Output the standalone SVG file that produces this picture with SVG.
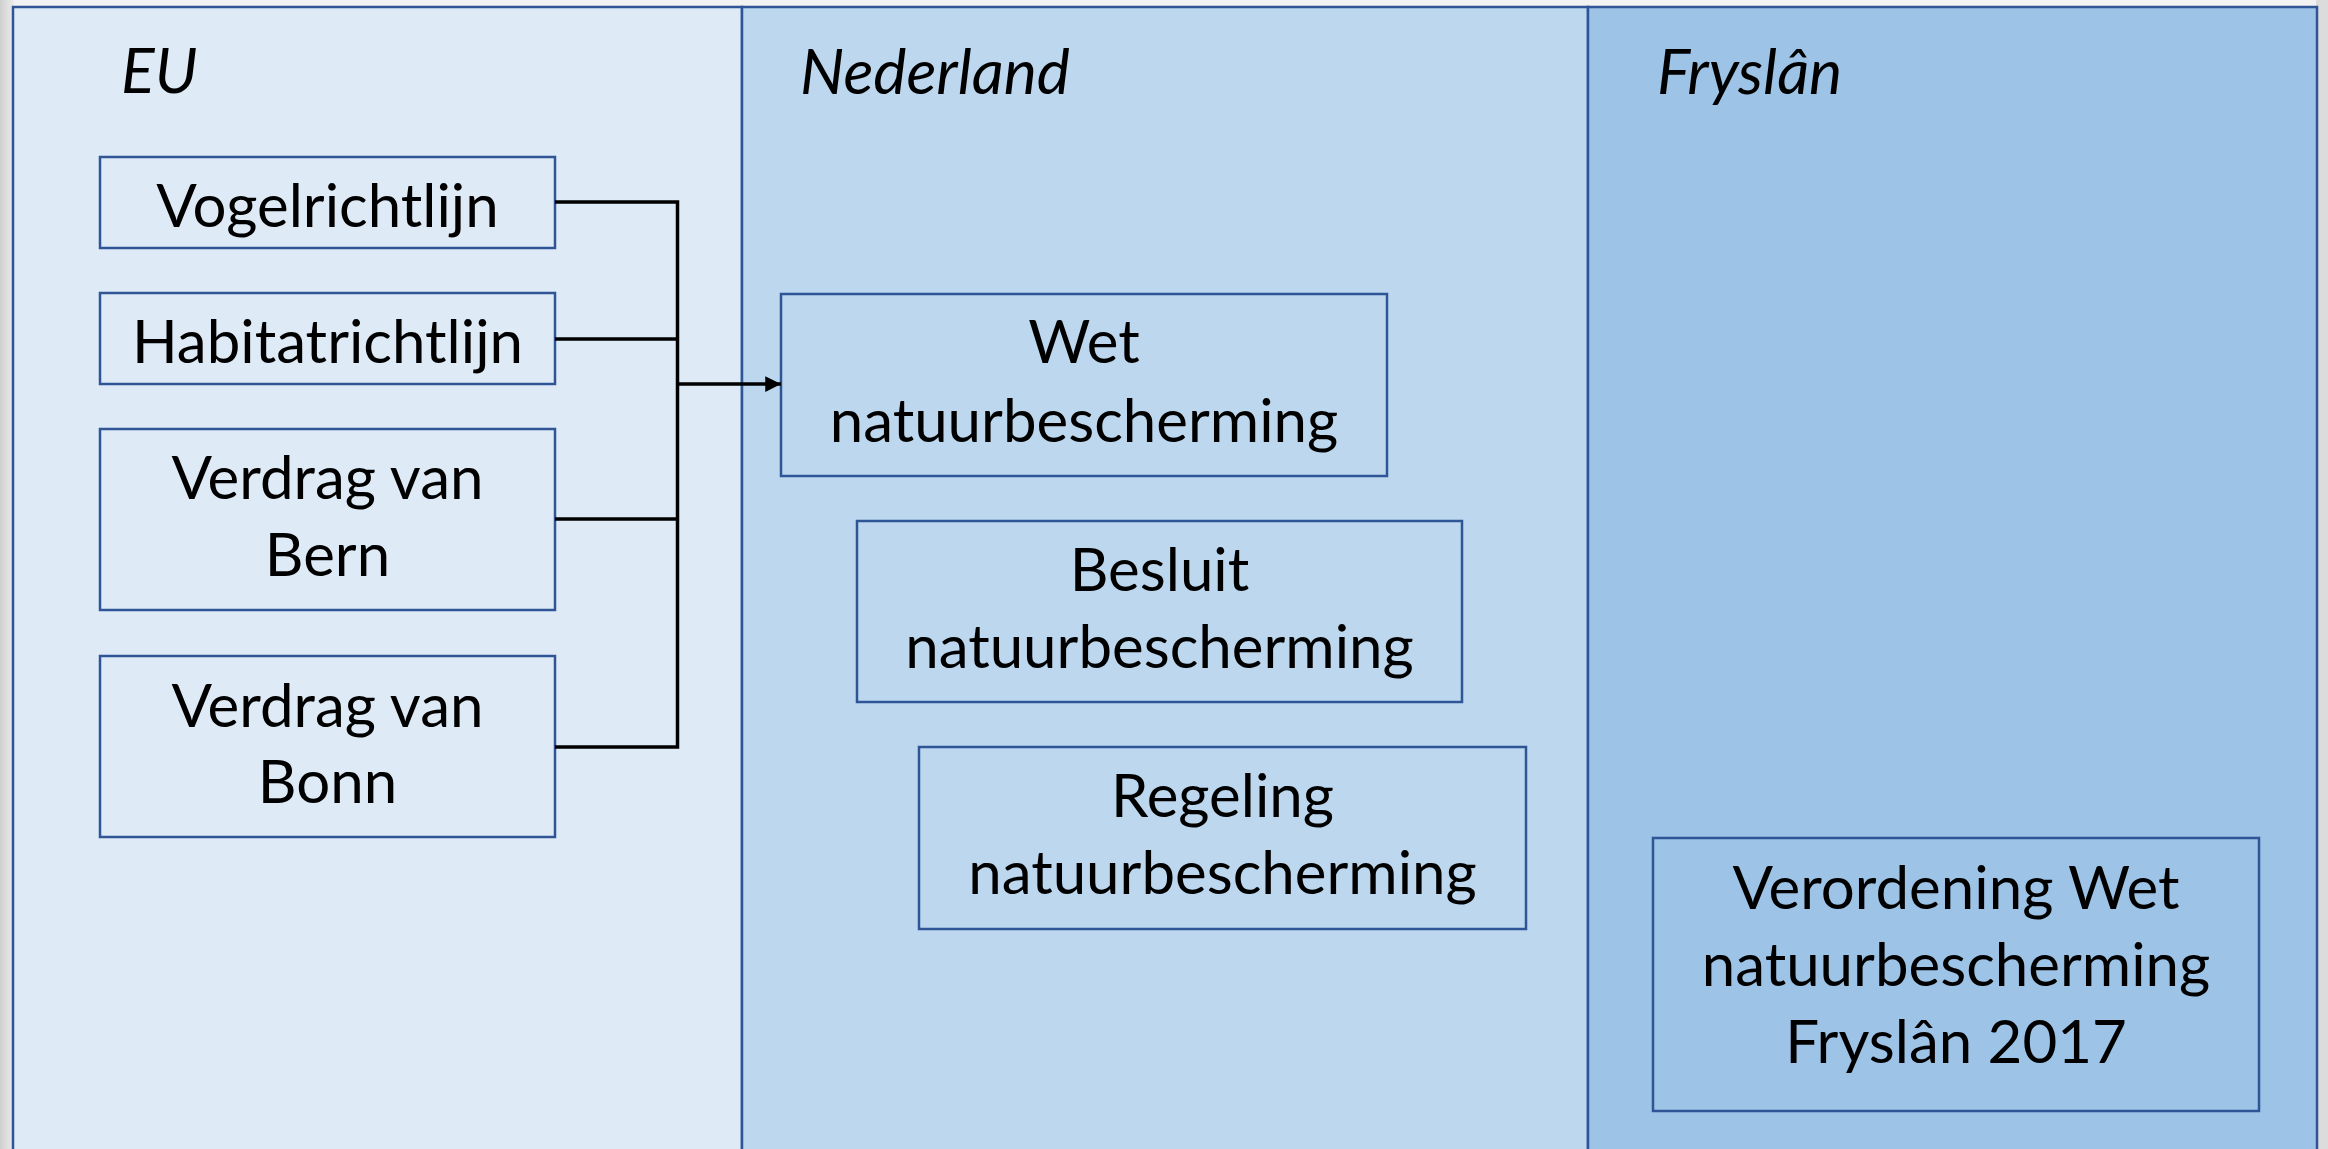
<svg xmlns="http://www.w3.org/2000/svg" width="2328" height="1149" viewBox="0 0 2328 1149">
<defs>
<style>
.panel{stroke:#2F5597;stroke-width:2.5}
.box{stroke:#2F5597;stroke-width:2.5}
.lbl{font-family:Lato,"Liberation Sans",sans-serif;font-style:italic;font-size:62.5px;fill:#000}
.t{font-family:Lato,"Liberation Sans",sans-serif;font-size:60px;fill:#000;text-anchor:middle}
.con{fill:none;stroke:#000;stroke-width:3.5}
</style>
<linearGradient id="lg" x1="0" y1="0" x2="1" y2="0">
<stop offset="0" stop-color="#cfcfcf"/>
<stop offset="1" stop-color="#ededed"/>
</linearGradient>
<marker id="arr" viewBox="0 0 10 10" refX="10" refY="5" markerWidth="4.5" markerHeight="4.5" markerUnits="strokeWidth" orient="auto">
<path d="M0,0 L10,5 L0,10 z" fill="#000"/>
</marker>
</defs>
<rect x="0" y="0" width="2328" height="1149" fill="#f2f2f2"/>
<rect x="0" y="0" width="14" height="1149" fill="url(#lg)"/>
<rect x="2316" y="0" width="12" height="1149" fill="#dcdcdc"/>

<g id="panel-eu">
<rect class="panel" x="13" y="7" width="729" height="1160" fill="#DEEBF7"/>
<text class="lbl" x="121" y="93">EU</text>
</g>
<g id="panel-nederland">
<rect class="panel" x="742" y="7" width="846" height="1160" fill="#BDD7EE"/>
<text class="lbl" x="800" y="94">Nederland</text>
</g>
<g id="panel-fryslan">
<rect class="panel" x="1588" y="7" width="729" height="1160" fill="#9DC3E6"/>
<text class="lbl" x="1657" y="94">Fryslân</text>
</g>

<g id="node-vogelrichtlijn">
<rect class="box" x="100" y="157" width="455" height="91" fill="#DEEBF7"/>
<text class="t" x="327.5" y="227">Vogelrichtlijn</text>
</g>
<g id="node-habitatrichtlijn">
<rect class="box" x="100" y="293" width="455" height="91" fill="#DEEBF7"/>
<text class="t" x="327.5" y="363">Habitatrichtlijn</text>
</g>
<g id="node-bern">
<rect class="box" x="100" y="429" width="455" height="181" fill="#DEEBF7"/>
<text class="t" x="327.5" y="499">Verdrag van</text>
<text class="t" x="327.5" y="576">Bern</text>
</g>
<g id="node-bonn">
<rect class="box" x="100" y="656" width="455" height="181" fill="#DEEBF7"/>
<text class="t" x="327.5" y="727">Verdrag van</text>
<text class="t" x="327.5" y="803">Bonn</text>
</g>

<g id="node-wet">
<rect class="box" x="781" y="294" width="606" height="182" fill="#BDD7EE"/>
<text class="t" x="1084" y="363">Wet</text>
<text class="t" x="1084" y="442">natuurbescherming</text>
</g>
<g id="node-besluit">
<rect class="box" x="857" y="521" width="605" height="181" fill="#BDD7EE"/>
<text class="t" x="1159.5" y="591">Besluit</text>
<text class="t" x="1159.5" y="668">natuurbescherming</text>
</g>
<g id="node-regeling">
<rect class="box" x="919" y="747" width="607" height="182" fill="#BDD7EE"/>
<text class="t" x="1222.5" y="817">Regeling</text>
<text class="t" x="1222.5" y="894">natuurbescherming</text>
</g>
<g id="node-verordening">
<rect class="box" x="1653" y="838" width="606" height="273" fill="#9DC3E6"/>
<text class="t" x="1956" y="909">Verordening Wet</text>
<text class="t" x="1956" y="986">natuurbescherming</text>
<text class="t" x="1956" y="1063">Fryslân 2017</text>
</g>

<g id="connectors">
<path class="con" d="M555,202 H677.5 V747 H555"/>
<path class="con" d="M555,339 H677.5"/>
<path class="con" d="M555,519 H677.5"/>
<path class="con" d="M677.5,384 H781" marker-end="url(#arr)"/>
</g>
</svg>
